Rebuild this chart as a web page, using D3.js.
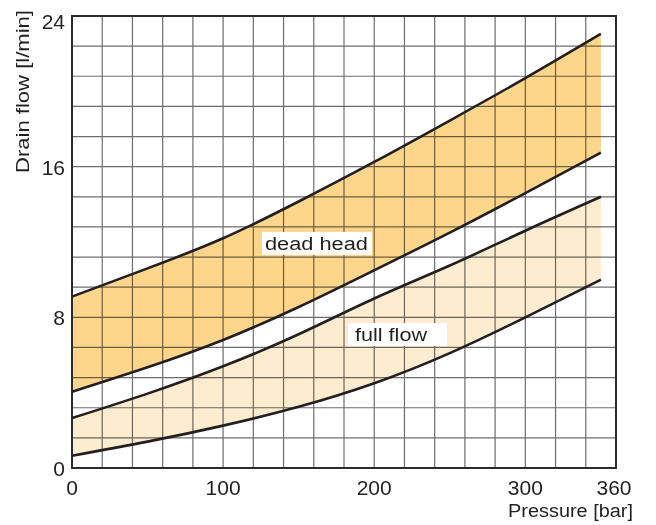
<!DOCTYPE html>
<html>
<head>
<meta charset="utf-8">
<script src="https://cdn.jsdelivr.net/npm/d3@7/dist/d3.min.js"></script>
<style>
  body { margin: 0; background: #fff; }
  svg { display: block; }
  text { font-family: "Liberation Sans", Arial, Helvetica, sans-serif; fill: #231f20; }
</style>
</head>
<body>
<svg id="chart" width="656" height="525"></svg>
<script>
// ---- data ----
const pressure     = [0, 50, 100, 150, 200, 250, 300, 350];
const deadHeadMax  = [9.1, 10.6, 12.2, 14.15, 16.25, 18.45, 20.7, 23.05];
const deadHeadMin  = [4.05, 5.35, 6.8, 8.55, 10.5, 12.5, 14.6, 16.75];
const fullFlowMax  = [2.65, 3.95, 5.4, 7.1, 9.0, 10.75, 12.6, 14.4];
const fullFlowMin  = [0.65, 1.4, 2.25, 3.25, 4.5, 6.1, 8.0, 10.0];
const xTickValues  = [0, 100, 200, 300, 360];
const yTickValues  = [0, 8, 16, 24];
const bandLabels   = ["dead head", "full flow"];

// ---- layout ----
const W = 656, H = 525;
const margin = { top: 16, right: 40, bottom: 57, left: 72 };
const svg = d3.select("#chart");
const x = d3.scaleLinear().domain([0, 360]).range([margin.left, W - margin.right]);
const y = d3.scaleLinear().domain([0, 24]).range([H - margin.bottom, margin.top]);

const pts = arr => pressure.map((p, i) => ({ p, v: arr[i] }));
const curve = d3.curveNatural;

// ---- bands ----
const area = (lo, hi) => d3.area()
  .x(d => x(d.p))
  .y0((d, i) => y(lo[i]))
  .y1((d, i) => y(hi[i]))
  .curve(curve);

svg.append("path").datum(pressure.map(p => ({ p })))
  .attr("d", area(deadHeadMin, deadHeadMax))
  .attr("fill", "#fdd68b");
svg.append("path").datum(pressure.map(p => ({ p })))
  .attr("d", area(fullFlowMin, fullFlowMax))
  .attr("fill", "#feecd0");

// ---- grid ----
const grid = svg.append("g").style("mix-blend-mode", "multiply");
grid.selectAll("line.v").data(d3.range(0, 361, 20)).join("line")
  .attr("x1", d => x(d)).attr("x2", d => x(d))
  .attr("y1", y(0)).attr("y2", y(24))
  .attr("stroke", "#6e6e6e").attr("stroke-width", 1.2);
grid.selectAll("line.h").data(d3.range(0, 16).map(i => i * 1.6)).join("line")
  .attr("y1", d => y(d)).attr("y2", d => y(d))
  .attr("x1", x(0)).attr("x2", x(360))
  .attr("stroke", "#6e6e6e").attr("stroke-width", 1.2);

// ---- frame ----
svg.append("rect")
  .attr("x", x(0)).attr("y", y(24))
  .attr("width", x(360) - x(0)).attr("height", y(0) - y(24))
  .attr("fill", "none").attr("stroke", "#2b2b2b").attr("stroke-width", 2);

// ---- curves ----
const line = d3.line().x(d => x(d.p)).y(d => y(d.v)).curve(curve);
[deadHeadMax, deadHeadMin, fullFlowMax, fullFlowMin].forEach(arr => {
  svg.append("path").datum(pts(arr))
    .attr("d", line)
    .attr("fill", "none")
    .attr("stroke", "#231f20")
    .attr("stroke-width", 2.6)
    .attr("stroke-linecap", "butt");
});

// ---- band labels ----
const labelSpecs = [
  { text: bandLabels[0], p: 127.7, v: 11.58, len: 103, padL: 3, padR: 4 },
  { text: bandLabels[1], p: 187.3, v: 6.74, len: 72, padL: 7, padR: 20 }
];
labelSpecs.forEach(s => {
  const g = svg.append("g");
  g.append("rect").attr("fill", "#fff")
   .attr("x", x(s.p) - s.padL)
   .attr("y", y(s.v) - 18)
   .attr("width", s.len + s.padL + s.padR)
   .attr("height", 23);
  g.append("text")
    .attr("x", x(s.p)).attr("y", y(s.v))
    .attr("font-size", 18)
    .attr("textLength", s.len).attr("lengthAdjust", "spacingAndGlyphs")
    .text(s.text);
});

// ---- tick labels ----
svg.selectAll("text.xt").data(xTickValues).join("text")
  .attr("class", "xt")
  .attr("x", d => x(d) - (d === 360 ? 2 : 0))
  .attr("y", y(0) + 27)
  .attr("text-anchor", "middle")
  .attr("font-size", 21)
  .text(d => d);

svg.selectAll("text.yt").data(yTickValues).join("text")
  .attr("class", "yt")
  .attr("x", x(0) - 7)
  .attr("y", d => Math.max(y(d) + 8, margin.top + 13))
  .attr("text-anchor", "end")
  .attr("font-size", 21)
  .text(d => d);

// ---- axis titles ----
svg.append("text")
  .attr("x", W - 23).attr("y", 517)
  .attr("text-anchor", "end")
  .attr("font-size", 18)
  .attr("textLength", 125).attr("lengthAdjust", "spacingAndGlyphs")
  .text("Pressure [bar]");

svg.append("text")
  .attr("transform", "translate(29,173) rotate(-90)")
  .attr("text-anchor", "start")
  .attr("font-size", 18)
  .attr("textLength", 163).attr("lengthAdjust", "spacingAndGlyphs")
  .text("Drain flow [l/min]");
</script>
</body>
</html>
